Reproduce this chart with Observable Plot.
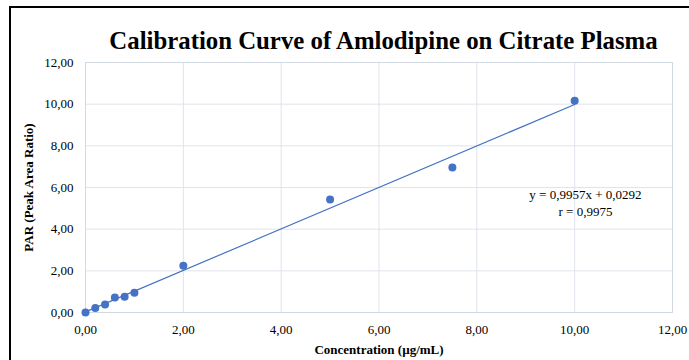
<!DOCTYPE html>
<html>
<head>
<meta charset="utf-8">
<script src="https://cdn.jsdelivr.net/npm/d3@7"></script>
<script src="https://cdn.jsdelivr.net/npm/@observablehq/plot@0.6"></script>
<style>
  html, body { margin: 0; padding: 0; background: #fff; }
  #wrap { position: relative; width: 689px; height: 360px; overflow: hidden; }
  #border { position: absolute; left: 9px; top: 6px; width: 700px; height: 400px; border-left: 2px solid #000; border-top: 2px solid #000; box-sizing: border-box; pointer-events: none; }
  #title { position: absolute; left: 0; width: 689px; top: 26px; text-align: center; padding-left: 78px; box-sizing: border-box; font-family: "Liberation Serif", "Times New Roman", serif; font-weight: bold; font-size: 24.8px; line-height: 30px; color: #000; white-space: nowrap; }
  svg g[aria-label="x-axis label"] text, svg g[aria-label="y-axis label"] text { font-weight: bold; }
</style>
</head>
<body>
<div id="wrap">
  <div id="chart"></div>
  <div id="border"></div>
  <div id="title">Calibration Curve of Amlodipine on Citrate Plasma</div>
</div>
<script>
// Data
const concentration = [0, 0.2, 0.4, 0.6, 0.8, 1.0, 2.0, 5.0, 7.5, 10.0];
const par = [0, 0.22, 0.38, 0.72, 0.76, 0.95, 2.24, 5.42, 6.96, 10.17];
const slope = 0.9957;
const intercept = 0.0292;
const trendX = [0, 10];
const ticks = [0, 2, 4, 6, 8, 10, 12];
const equationText = ["y = 0,9957x + 0,0292", "r = 0,9975"];

const points = concentration.map((c, i) => ({x: c, y: par[i]}));
const trend = trendX.map(x => ({x, y: slope * x + intercept}));
const fmt = d => d3.format(".2f")(d).replace(".", ",");

const chart = Plot.plot({
  width: 689,
  height: 360,
  marginLeft: 85,
  marginRight: 17,
  marginTop: 62,
  marginBottom: 48,
  style: {fontFamily: "'Liberation Serif', serif", fontSize: "13px", color: "#000", background: "transparent"},
  x: {domain: [0, 12], ticks, tickFormat: fmt, label: "Concentration (µg/mL)", labelAnchor: "center", labelArrow: "none", labelOffset: 41},
  y: {domain: [0, 12], ticks, tickFormat: fmt, label: "PAR (Peak Area Ratio)", labelAnchor: "center", labelArrow: "none", labelOffset: 62},
  marks: [
    Plot.gridX(ticks, {stroke: "#dfe3ea", strokeOpacity: 1}),
    Plot.gridY(ticks, {stroke: "#dfe3ea", strokeOpacity: 1}),
    Plot.frame({stroke: "#d3d9e3"}),
    Plot.axisX({ticks, tickFormat: fmt, tickSize: 0, tickPadding: 12, fontSize: 13, label: "Concentration (µg/mL)", labelAnchor: "center", labelArrow: "none", labelOffset: 41}),
    Plot.axisY({ticks, tickFormat: fmt, tickSize: 0, tickPadding: 12, fontSize: 13, label: "PAR (Peak Area Ratio)", labelAnchor: "center", labelArrow: "none", labelOffset: 62}),
    Plot.line(trend, {x: "x", y: "y", stroke: "#4472c4", strokeWidth: 1.2}),
    Plot.dot(points, {x: "x", y: "y", r: 4, fill: "#4472c4", stroke: "none"}),
    Plot.text([equationText.join("\n")], {x: [10.22], y: [5.28], text: d => d, fontSize: 13, lineHeight: 1.3, textAnchor: "middle", fill: "#000"})
  ]
});
document.getElementById("chart").appendChild(chart);
</script>
</body>
</html>
